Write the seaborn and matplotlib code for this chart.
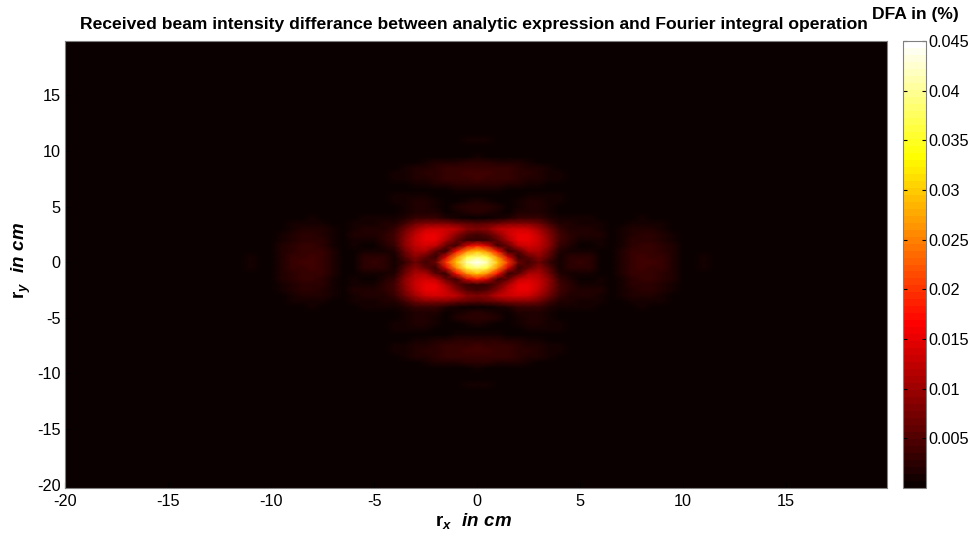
import matplotlib
matplotlib.use("Agg")
import matplotlib.pyplot as plt
import numpy as np
import pandas as pd
import seaborn as sns

# values in units of 1e-3 %, one quadrant (x >= 0, y >= 0),
# sampled every 0.5 cm; the pattern is mirrored into the other three quadrants
grid_step = 0.5
quadrant_rows = [
    [45, 41, 30, 20, 7, 4, 7, 3.5, 1, 2.5, 3, 2.5, .5, .5, 1.5, 3, 3.6, 3.6, 3, 2, .3, .5, 1, .5],
    [39, 36, 26, 14, 3, 6, 9, 5, 1, 2.2, 2.8, 2.2, .5, .5, 1.5, 3, 3.6, 3.5, 3, 2, .3, .5, .9, .4],
    [30, 26, 17, 3, 5, 11, 11, 7, 2, .8, 1.3, .9, .5, .5, 1.5, 3, 3.5, 3.4, 2.8, 1.8, .2, .4, .6, .2],
    [18, 14, 4, 6, 12, 14, 12, 9, 3, 1.5, .6, .6, .8, .5, 1.4, 2.8, 3.2, 3, 2.5, 1.5, .1, .1, .2],
    [3.5, 3.5, 6, 11, 15, 15, 13, 9, 4, 2.5, 1.2, 1.2, 1.3, .5, 1.2, 2.5, 2.8, 2.6, 2.1, 1.2],
    [4, 5, 9, 13, 15, 15, 12, 8, 4, 2.5, 1.5, 1.5, 1.5, .4, 1, 2.1, 2.4, 2.2, 1.7, .9],
    [8, 9, 12, 13, 14, 13, 10, 6.5, 3, 2, 1.5, 1.6, 1.3, .3, .8, 1.7, 2, 1.8, 1.3, .6],
    [5, 6, 7, 8, 8, 8, 7, 4, 2, 1.5, 1.2, 1.2, .8, .2, .6, 1.2, 1.4, 1.2, .8, .3],
    [.7, .7, 1, 1.5, 3, 3.5, 3, 2, 1, 1, .8, .8, .4, .1, .3, .7, .9, .7, .4, .1],
    [2.2, 2, 1.2, .5, 1.5, 2, 1.5, 1, .7, .5, .3, .2, 0, 0, 0, .2, .4, .3, .1],
    [2.8, 2.6, 1.8, .5, 1.3, 1.8, 1.5, 1, .7, .4, .2],
    [1.8, 1.4, .6, .4, 1, 1.5, 1.5, 1.2, .8, .5, .2],
    [.4, .4, .4, .4, .5, 1, 1.2, 1, .9, .5, .1],
    [.9, .9, .8, .7, .4, .4, .6, .6, .5, .2],
    [2.5, 2.4, 2.2, 2, 1.6, 1.2, .9, .6, .4, .2],
    [3.6, 3.5, 3.3, 3, 2.5, 2, 1.6, 1.2, .8, .5],
    [3.8, 3.7, 3.5, 3.2, 2.8, 2.3, 1.9, 1.4, 1, .5],
    [3.5, 3.4, 3.2, 2.9, 2.5, 2, 1.6, 1.1, .7, .3],
    [2.3, 2.2, 2, 1.8, 1.5, 1.1, .7, .4, .2],
    [.8, .7, .6, .5, .3, .2, .1],
    [.1, .1],
    [.6, .6, .4, .1],
    [.9, .8, .5, .1],
    [.4, .3, .2],
]
x_ticks = [-20, -15, -10, -5, 0, 5, 10, 15]
y_ticks = [-20, -15, -10, -5, 0, 5, 10, 15]
cbar_ticks = [0.005, 0.01, 0.015, 0.02, 0.025, 0.03, 0.035, 0.04, 0.045]
cbar_labels = ["0.005", "0.01", "0.015", "0.02", "0.025", "0.03", "0.035", "0.04", "0.045"]
title = "Received beam intensity differance between analytic expression and Fourier integral operation"

plt.rcParams["font.family"] = ["Liberation Sans", "DejaVu Sans"]
plt.rcParams["mathtext.fontset"] = "custom"
plt.rcParams["mathtext.rm"] = "Liberation Sans:bold"
plt.rcParams["mathtext.it"] = "Liberation Sans:italic:bold"

# quadrant -> full map, everything past the last read value stays zero
half = 41
quadrant = np.zeros((half + 1, half + 1))
for row_idx, row in enumerate(quadrant_rows):
    quadrant[row_idx, :len(row)] = row
top = np.hstack([quadrant[:, :0:-1], quadrant])
full = np.vstack([top[:0:-1], top]) * 1e-3
coords = np.arange(-half, half + 1) * grid_step
table = pd.DataFrame(full, index=coords, columns=coords)


def to_pos(value):
    return value / grid_step + half


w, h = 977, 538
fig = plt.figure(figsize=(w / 100, h / 100), dpi=100)
ax = fig.add_axes([65 / w, 1 - 488 / h, 822 / w, 447 / h])
cax = fig.add_axes([903 / w, 1 - 488 / h, 23 / w, 447 / h])

sns.heatmap(
    table,
    ax=ax,
    cbar_ax=cax,
    cmap=plt.get_cmap("hot", 64),
    vmin=0,
    vmax=0.045,
    xticklabels=False,
    yticklabels=False,
    shading="gouraud",
    rasterized=True,
    cbar_kws={"ticks": cbar_ticks},
)
ax.set_xlim(to_pos(-20), to_pos(19.9))
ax.set_ylim(to_pos(-20.3), to_pos(19.9))
ax.set_xticks([to_pos(t) for t in x_ticks], [str(t) for t in x_ticks])
ax.set_yticks([to_pos(t) for t in y_ticks], [str(t) for t in y_ticks])
ax.tick_params(direction="in", length=4, color="black", labelsize=11.7)
ax.tick_params(axis="x", pad=4)
ax.tick_params(axis="y", pad=3)
plt.setp(ax.get_xticklabels(), rotation=0)
plt.setp(ax.get_yticklabels(), rotation=0)
for spine in ax.spines.values():
    spine.set_visible(True)
    spine.set_color("#808080")
    spine.set_linewidth(0.8)

ax.set_xlabel(r"$\mathrm{r}_{\mathit{x}}\ \ \mathit{in\ cm}$", fontsize=13.5)
ax.set_ylabel(r"$\mathrm{r}_{\mathit{y}}\ \ \mathit{in\ cm}$", fontsize=13.5)
ax.xaxis.set_label_coords(0.497, -23 / 447)
ax.yaxis.set_label_coords(-32 / 822, 0.508)
fig.text(474 / w, 1 - 24 / h, title, ha="center", va="center",
         fontsize=12.6, fontweight="bold")
fig.text(915 / w, 1 - 14 / h, "DFA in (%)", ha="center", va="center",
         fontsize=12.6, fontweight="bold")

cbar = ax.collections[0].colorbar
cbar.set_ticks(cbar_ticks, labels=cbar_labels)
cbar.ax.tick_params(direction="in", length=3, color="black", labelsize=11.7, pad=2,
                    right=True, left=True)
cbar.outline.set_edgecolor("#808080")
cbar.outline.set_linewidth(0.8)

fig.savefig("out.png", dpi=100)
plt.close(fig)
